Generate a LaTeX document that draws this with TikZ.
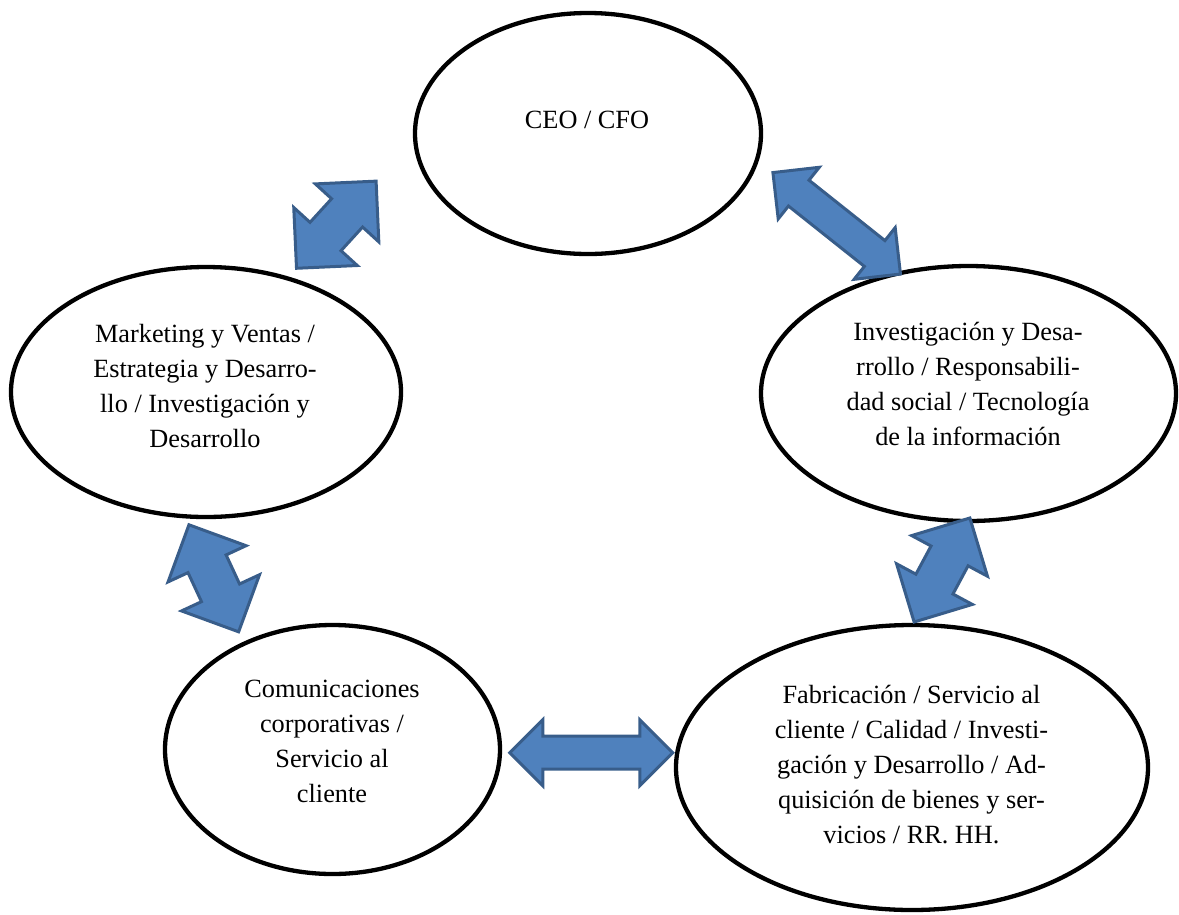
\documentclass[tikz,border=0pt]{standalone}
\usepackage{fontspec}
\setmainfont{Liberation Serif}
\usetikzlibrary{shapes.geometric,shapes.arrows}
\definecolor{arrowfill}{HTML}{4F81BD}
\definecolor{arrowline}{HTML}{385D8A}
% centred block of lines, baseline on the first line
\newcommand\cellstack[1]{\begin{tabular}[t]{@{}c@{}}#1\end{tabular}}

\begin{document}
\begin{tikzpicture}[x=1pt,y=-1pt,
  unit/.style={ellipse,draw=black,line width=4.3pt,inner sep=0pt},
  caption/.style={anchor=base,inner sep=0pt,font=\fontsize{26.3pt}{35pt}\selectfont},
  link/.style={double arrow,double arrow tip angle=90,fill=arrowfill,draw=arrowline,
               line width=3pt,inner xsep=0pt,line join=miter},
  longlink/.style={link,inner ysep=15pt,minimum height=163pt,minimum width=63pt,double arrow head extend=16.5pt},
  shortlink/.style={link,inner ysep=19.5pt,minimum height=118pt,minimum width=83pt,double arrow head extend=22pt}]
\useasboundingbox (0,0) rectangle (1179,914);

% departments
\node[unit,minimum width=346pt,minimum height=241pt] (ceo) at (588,133.5) {};
\node[unit,minimum width=390pt,minimum height=250pt] (mkt) at (206,392) {};
\node[unit,minimum width=415pt,minimum height=255pt] (inv) at (968.5,393.5) {};
\node[unit,minimum width=335pt,minimum height=249pt] (com) at (332.5,749.5) {};
\node[unit,minimum width=472pt,minimum height=285pt] (fab) at (912,767.5) {};

% captions
\node[caption] (tceo) at (587,128) {\cellstack{CEO / CFO}};
\node[caption] (tmkt) at (205,342) {\cellstack{Marketing y Ventas /\\Estrategia y Desarro-\\llo / Investigación y\\Desarrollo}};
\node[caption] (tinv) at (968,340) {\cellstack{Investigación y Desa-\\rrollo / Responsabili-\\dad social / Tecnología\\de la información}};
\node[caption] (tcom) at (332,697) {\cellstack{Comunicaciones\\corporativas /\\Servicio al\\cliente}};
\node[caption] (tfab) at (911.5,703) {\cellstack{Fabricación / Servicio al\\cliente / Calidad / Investi-\\gación y Desarrollo / Ad-\\quisición de bienes y ser-\\vicios / RR. HH.}};

% two-way links
\node[shortlink,rotate=47.6] (mkt-ceo) at (336.3,224.7) {};
\node[longlink,rotate=-38.5] (ceo-inv) at (836.7,223.3) {};
\node[shortlink,rotate=-65.1] (mkt-com) at (213.8,578.3) {};
\node[shortlink,rotate=61.8] (inv-fab) at (942,570) {};
\node[longlink] (com-fab) at (591.3,752.7) {};
\end{tikzpicture}
\end{document}
